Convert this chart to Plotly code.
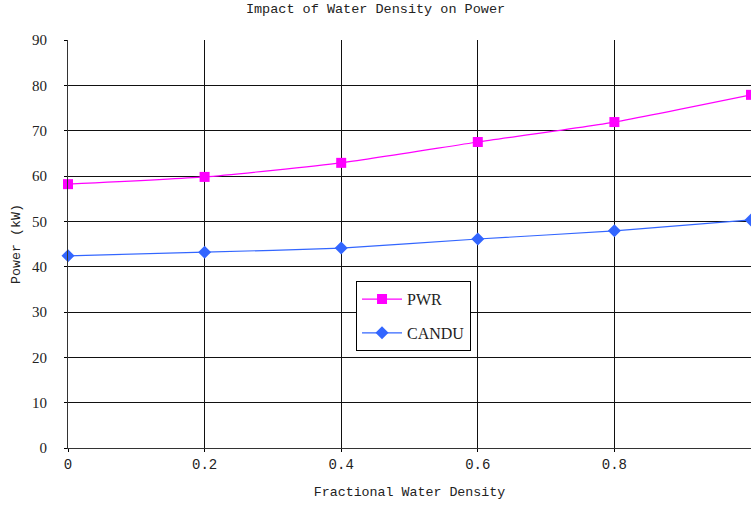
import plotly.graph_objects as go

density = [0, 0.2, 0.4, 0.6, 0.8, 1.0]
pwr = [58.2, 59.8, 62.9, 67.5, 71.9, 77.9]
candu = [42.4, 43.2, 44.1, 46.1, 47.9, 50.3]
x_ticks = [0, 0.2, 0.4, 0.6, 0.8]
y_ticks = [0, 10, 20, 30, 40, 50, 60, 70, 80, 90]

font = "Liberation Mono, DejaVu Sans Mono, monospace"

fig = go.Figure()
fig.add_trace(go.Scatter(
    x=density, y=pwr, name="PWR", mode="lines+markers", legendgroup="a",
    line=dict(color="#FF00FF", width=1.2, shape="spline", smoothing=0.5),
    marker=dict(symbol="square", size=10, color="#FF00FF"),
    cliponaxis=False,
))
fig.add_trace(go.Scatter(
    x=density, y=candu, name="CANDU", mode="lines+markers", legendgroup="b",
    line=dict(color="#3366FF", width=1.2, shape="spline", smoothing=0.5),
    marker=dict(symbol="diamond", size=10, color="#3366FF"),
    cliponaxis=False,
))

fig.update_layout(
    width=751, height=506,
    margin=dict(l=68, r=0, t=40, b=58),
    paper_bgcolor="white", plot_bgcolor="white",
    font=dict(family=font, size=14, color="#222"),
    title=dict(text="Impact of Water Density on Power", x=0.5, xanchor="center",
               y=0.993, yanchor="top", font=dict(family=font, size=13.5, color="#222")),
    legend=dict(x=0.4217, y=0.409, xanchor="left", yanchor="top",
                bgcolor="white", bordercolor="black", borderwidth=1,
                font=dict(family="Liberation Serif, serif", size=16, color="#222"),
                itemwidth=40, tracegroupgap=10),
    showlegend=True,
)
fig.update_xaxes(
    range=[0, 1.0], tickvals=x_ticks, ticktext=[str(v) if v else "0" for v in x_ticks],
    showgrid=True, gridcolor="#111", gridwidth=1,
    showline=True, linecolor="#333", linewidth=1, zeroline=False,
    ticks="outside", ticklen=3, tickcolor="black",
    title=dict(text="Fractional Water Density", standoff=14, font=dict(family=font, size=13.3)),
    tickfont=dict(family=font, size=14), fixedrange=True,
)
fig.update_yaxes(
    range=[0, 90], tickvals=y_ticks,
    showgrid=True, gridcolor="#111", gridwidth=1,
    showline=True, linecolor="#333", linewidth=1, zeroline=False,
    ticks="outside", ticklen=3, tickcolor="black", ticklabelstandoff=14,
    title=dict(text="Power (kW)", standoff=8, font=dict(family=font, size=13.3)),
    tickfont=dict(family="Liberation Serif, serif", size=15), fixedrange=True,
)

fig.write_html("out.html")
